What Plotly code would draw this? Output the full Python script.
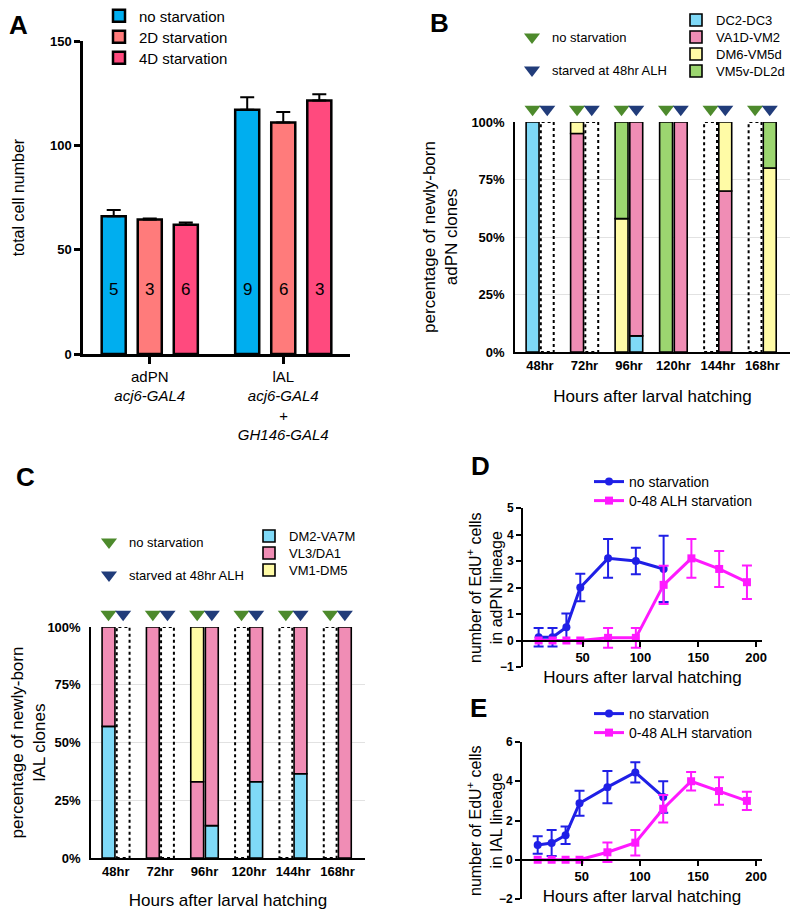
import plotly.graph_objects as go

FONT = "Liberation Sans, Arial, Helvetica, sans-serif"
# the page body adds an 8px margin, so the figure is 784x903 and page pixels are mapped below
W, H = 784, 903
OFFSET = 8

# ---------------- Panel A data ----------------
a_groups = ["adPN<br><i>acj6-GAL4</i>",
            "lAL<br><i>acj6-GAL4</i><br><i>+</i><br><i>GH146-GAL4</i>"]
a_series = ["no starvation", "2D starvation", "4D starvation"]
a_nostarv = [66, 117]
a_2d = [64.5, 111]
a_4d = [62, 121.5]
a_nostarv_err = [3, 6]
a_2d_err = [0.4, 5]
a_4d_err = [1, 3]
a_nostarv_n = [5, 9]
a_2d_n = [3, 6]
a_4d_n = [6, 3]

# ---------------- Panel B data (adPN clones, %) ----------------
hours = ["48hr", "72hr", "96hr", "120hr", "144hr", "168hr"]
b_clones = ["DC2-DC3", "VA1D-VM2", "DM6-VM5d", "VM5v-DL2d"]
b_dc2_fed = [100, 0, 0, 0, 0, 0]
b_va1d_fed = [0, 95, 0, 0, 0, 0]
b_dm6_fed = [0, 5, 58, 0, 0, 0]
b_vm5v_fed = [0, 0, 42, 100, 0, 0]
b_dc2_starved = [0, 0, 7, 0, 0, 0]
b_va1d_starved = [0, 0, 93, 100, 70, 0]
b_dm6_starved = [0, 0, 0, 0, 30, 80]
b_vm5v_starved = [0, 0, 0, 0, 0, 20]

# ---------------- Panel C data (lAL clones, %) ----------------
c_clones = ["DM2-VA7M", "VL3/DA1", "VM1-DM5"]
c_dm2_fed = [57, 0, 0, 0, 0, 0]
c_vl3_fed = [43, 100, 33, 0, 0, 0]
c_vm1_fed = [0, 0, 67, 0, 0, 0]
c_dm2_starved = [0, 0, 14, 33, 36.5, 0]
c_vl3_starved = [0, 0, 86, 67, 63.5, 100]
c_vm1_starved = [0, 0, 0, 0, 0, 0]

# ---------------- Panel D / E data ----------------
t_fed = [12, 24, 36, 48, 72, 96, 120]
t_starved = [12, 24, 36, 48, 72, 96, 120, 144, 168, 192]
d_fed = [0.12, 0.12, 0.5, 2.0, 3.1, 3.0, 2.7]
d_fed_err = [0.35, 0.35, 0.52, 0.52, 0.73, 0.5, 1.25]
d_starved = [0, 0, 0, 0, 0.1, 0.1, 2.1, 3.1, 2.7, 2.2]
d_starved_err = [0, 0, 0, 0, 0.37, 0.37, 0.72, 0.73, 0.68, 0.63]
e_fed = [0.75, 0.85, 1.25, 2.88, 3.7, 4.45, 3.2]
e_fed_err = [0.45, 0.66, 0.45, 0.64, 0.82, 0.52, 0.8]
e_starved = [0, 0, 0, 0, 0.38, 0.87, 2.6, 4.0, 3.5, 3.0]
e_starved_err = [0, 0, 0, 0, 0.5, 0.65, 0.7, 0.47, 0.7, 0.47]

# ---------------- styles ----------------
A_COLORS = ["#00AEEF", "#FF7B7B", "#FF4A7E"]
CLONE_COLORS = {"DC2-DC3": "#7FD9F7", "VA1D-VM2": "#F08DB5", "DM6-VM5d": "#FFFBA6",
                "VM5v-DL2d": "#9CD670", "DM2-VA7M": "#7FD9F7", "VL3/DA1": "#F08DB5",
                "VM1-DM5": "#FFFBA6"}
GREEN_TRI = "#4D8A2C"
NAVY_TRI = "#213C7A"
BLUE = "#1F1FE6"
MAGENTA = "#FF19FF"
BAR_W = 0.29
OFF_FED = -0.31
OFF_STARVED = 0.02


def px(x):
    return (x - OFFSET) / W


def py(y):
    return 1 - (y - OFFSET) / H


fig = go.Figure()
layout = {}
_leg_count = [0]


def new_legend(x_page, y_page, size):
    """one legend per entry, positioned by its row centre on the page"""
    _leg_count[0] += 1
    n = _leg_count[0]
    name = "legend" if n == 1 else f"legend{n}"
    layout[name] = dict(x=px(x_page), y=py(y_page), xanchor="left", yanchor="middle",
                        xref="paper", yref="paper", bgcolor="rgba(0,0,0,0)",
                        font=dict(family=FONT, size=size, color="black"))
    return name


# ---------------- Panel A ----------------
a_vals = [a_nostarv, a_2d, a_4d]
a_errs = [a_nostarv_err, a_2d_err, a_4d_err]
a_ns = [a_nostarv_n, a_2d_n, a_4d_n]
for k, (name, vals, errs, col) in enumerate(zip(a_series, a_vals, a_errs, A_COLORS)):
    fig.add_trace(go.Bar(
        x=a_groups, y=vals, name=name, xaxis="x", yaxis="y",
        marker=dict(color=col, line=dict(color="black", width=2.5)),
        error_y=dict(type="data", symmetric=False, array=errs, arrayminus=[0] * len(errs),
                     color="black", thickness=2, width=7),
        legend=new_legend(99, 16 + 21 * k, 15)))

annotations = []
for k, ns in enumerate(a_ns):
    for g, n in zip(a_groups, ns):
        annotations.append(dict(x=g, y=31, xref="x", yref="y", text=str(n), showarrow=False,
                                xshift=(k - 1) * 36, font=dict(family=FONT, size=17, color="black")))


# ---------------- stacked bars helper (B, C) ----------------
def add_stacked(clones, fed_lists, starved_lists, xa, ya, leg_x, leg_y0, leg_dy):
    n = len(hours)
    for cond, lists, off in (("fed", fed_lists, OFF_FED), ("starved", starved_lists, OFF_STARVED)):
        base = [0] * n
        for j, (clone, vals) in enumerate(zip(clones, lists)):
            xs = [i for i in range(n) if vals[i] > 0]
            if xs:
                show = cond == "fed"
                fig.add_trace(go.Bar(
                    x=xs, y=[vals[i] for i in xs], base=[base[i] for i in xs],
                    width=BAR_W, offset=off, name=clone, legendgroup=clone,
                    showlegend=show,
                    legend=new_legend(leg_x, leg_y0 + leg_dy * j, 13) if show else None,
                    marker=dict(color=CLONE_COLORS[clone], line=dict(color="black", width=1.6)),
                    xaxis=xa, yaxis=ya))
            base = [b + v for b, v in zip(base, vals)]


def empty_boxes(fed_lists, starved_lists, xref, yref):
    shapes = []
    n = len(hours)
    for lists, off in ((fed_lists, OFF_FED), (starved_lists, OFF_STARVED)):
        for i in range(n):
            if sum(l[i] for l in lists) == 0:
                shapes.append(dict(type="rect", xref=xref, yref=yref, x0=i + off, x1=i + off + BAR_W,
                                   y0=0, y1=100, line=dict(color="black", width=2, dash="dot"),
                                   fillcolor="rgba(0,0,0,0)", layer="above"))
    return shapes


def add_triangles(xa, ya, leg_x, leg_ys):
    n = len(hours)
    for (name, col, off), ly in zip((("no starvation", GREEN_TRI, OFF_FED),
                                     ("starved at 48hr ALH", NAVY_TRI, OFF_STARVED)), leg_ys):
        fig.add_trace(go.Scatter(
            x=[i + off + BAR_W / 2 for i in range(n)], y=[105.5] * n, mode="markers",
            marker=dict(symbol="triangle-down", size=14, color=col, line=dict(width=0)),
            name=name, legend=new_legend(leg_x, ly, 13), xaxis=xa, yaxis=ya))


b_fed = [b_dc2_fed, b_va1d_fed, b_dm6_fed, b_vm5v_fed]
b_starved = [b_dc2_starved, b_va1d_starved, b_dm6_starved, b_vm5v_starved]
add_stacked(b_clones, b_fed, b_starved, "x2", "y2", 676, 20, 17)
add_triangles("x2", "y6", 512, [37, 70])

c_fed = [c_dm2_fed, c_vl3_fed, c_vm1_fed]
c_starved = [c_dm2_starved, c_vl3_starved, c_vm1_starved]
add_stacked(c_clones, c_fed, c_starved, "x3", "y3", 249, 536, 17)
add_triangles("x3", "y7", 89, [542, 575])

shapes = empty_boxes(b_fed, b_starved, "x2", "y2") + empty_boxes(c_fed, c_starved, "x3", "y3")

# ---------------- Panels D, E ----------------
for xa, ya, ly, fed, fed_err, stv, stv_err in (
        ("x4", "y4", 482, d_fed, d_fed_err, d_starved, d_starved_err),
        ("x5", "y5", 714, e_fed, e_fed_err, e_starved, e_starved_err)):
    fig.add_trace(go.Scatter(
        x=t_fed, y=fed, mode="lines+markers", name="no starvation",
        line=dict(color=BLUE, width=3), marker=dict(symbol="circle", size=8, color=BLUE),
        error_y=dict(type="data", array=fed_err, color=BLUE, thickness=2, width=5),
        xaxis=xa, yaxis=ya, legend=new_legend(589, ly, 14), cliponaxis=False))
    fig.add_trace(go.Scatter(
        x=t_starved, y=stv, mode="lines+markers", name="0-48 ALH starvation",
        line=dict(color=MAGENTA, width=3), marker=dict(symbol="square", size=8, color=MAGENTA),
        error_y=dict(type="data", array=stv_err, color=MAGENTA, thickness=2, width=5),
        xaxis=xa, yaxis=ya, legend=new_legend(589, ly + 19, 14), cliponaxis=False))

# ---------------- layout ----------------
bold_tick = dict(family=FONT, size=13, color="black", weight="bold")
bold_tick_small = dict(family=FONT, size=12, color="black", weight="bold")
title_font = dict(family=FONT, size=17, color="black")

layout.update(
    width=W, height=H, margin=dict(l=0, r=0, t=0, b=0, autoexpand=False),
    paper_bgcolor="white", plot_bgcolor="rgba(0,0,0,0)",
    font=dict(family=FONT, color="black"),
    barmode="group", bargap=0.19, bargroupgap=0.333,
    shapes=shapes,
)

# Panel A axes
layout["xaxis"] = dict(domain=[px(83), px(350)], anchor="y", type="category", range=[-0.5, 1.5],
                       showline=True, linecolor="black", linewidth=2.5, ticks="outside",
                       ticklen=7, tickwidth=2.5, tickcolor="black",
                       tickfont=dict(family=FONT, size=15, color="black"), showgrid=False, zeroline=False)
layout["yaxis"] = dict(domain=[py(354), py(41)], anchor="x", range=[0, 150], tickvals=[0, 50, 100, 150],
                       showline=True, linecolor="black", linewidth=2.5, ticks="outside",
                       ticklen=6, tickwidth=2.5, tickcolor="black", tickfont=bold_tick,
                       showgrid=False, zeroline=False,
                       title=dict(text="total cell number", font=dict(family=FONT, size=16), standoff=22))

# Panel B / C axes (+ hidden axes for the condition triangles above the bars)
for xn, yn, tn, xd, bottom, top, tri_top, ttl, tstand in (
        ("xaxis2", "yaxis2", "yaxis6", [px(515), px(790)], 352, 122, 100,
         "percentage of newly-born<br>adPN clones", 19),
        ("xaxis3", "yaxis3", "yaxis7", [px(91), px(365)], 858, 627, 605,
         "percentage of newly-born<br>lAL clones", 17)):
    layout[xn] = dict(domain=xd, anchor=yn.replace("axis", ""), range=[-0.56, 5.62],
                      tickvals=list(range(len(hours))), ticktext=hours, tickfont=bold_tick,
                      showline=True, linecolor="black", linewidth=2, ticks="",
                      showgrid=False, zeroline=False,
                      title=dict(text="Hours after larval hatching", font=title_font, standoff=tstand))
    layout[yn] = dict(domain=[py(bottom), py(top)], anchor=xn.replace("axis", ""), range=[0, 100],
                      tickvals=[0, 25, 50, 75, 100], ticktext=["0%", "25%", "50%", "75%", "100%"],
                      tickfont=bold_tick, ticklabelstandoff=6, showline=True, linecolor="black",
                      linewidth=1.5, ticks="", showgrid=True, gridcolor="#E2E2E2", gridwidth=1,
                      zeroline=False, title=dict(text=ttl, font=title_font, standoff=9))
    layout[tn] = dict(domain=[py(bottom), py(tri_top)], anchor=xn.replace("axis", ""),
                      range=[0, 100 * (bottom - tri_top) / (bottom - top)], visible=False)

# Panel D / E axes
for xn, yn, xd, yd, yr, ytv in (
        ("xaxis4", "yaxis4", [px(523), px(762)], [py(667), py(508)], [-1, 5], [-1, 0, 1, 2, 3, 4, 5]),
        ("xaxis5", "yaxis5", [px(522), px(762)], [py(899), py(742)], [-2, 6], [-2, 0, 2, 4, 6])):
    pos = yd[0] + (0 - yr[0]) / (yr[1] - yr[0]) * (yd[1] - yd[0])
    layout[xn] = dict(domain=xd, anchor="free", position=pos, range=[-1.5, 205],
                      tickvals=[50, 100, 150, 200], tickfont=bold_tick,
                      showline=True, linecolor="black", linewidth=2, ticks="outside",
                      ticklen=5, tickwidth=2, tickcolor="black", showgrid=False, zeroline=False,
                      title=dict(text="Hours after larval hatching", font=title_font, standoff=6))
    layout[yn] = dict(domain=yd, anchor=xn.replace("axis", ""), range=yr, tickvals=ytv,
                      tickfont=bold_tick_small, showline=True, linecolor="black", linewidth=2,
                      ticks="outside", ticklen=5, tickwidth=2, tickcolor="black",
                      showgrid=False, zeroline=False)

# D / E y-axis titles (placed close to the axes as in the reference)
for text, cx, cy in (("number of EdU<sup>+</sup> cells<br>in adPN lineage", 484, 587),
                     ("number of EdU<sup>+</sup> cells<br>in lAL lineage", 484, 820)):
    annotations.append(dict(x=px(cx), y=py(cy), xref="paper", yref="paper", text=text,
                            xanchor="center", yanchor="middle",
                            textangle=-90, showarrow=False, align="center",
                            font=dict(family=FONT, size=16, color="black")))

# Panel letters
for letter, lx, ly in (("A", 18, 25), ("B", 440, 23), ("C", 25, 477), ("D", 480, 466), ("E", 478, 708)):
    annotations.append(dict(x=px(lx), y=py(ly), xref="paper", yref="paper", text=f"<b>{letter}</b>",
                            xanchor="center", yanchor="middle",
                            showarrow=False, font=dict(family=FONT, size=26, color="black")))
layout["annotations"] = annotations

fig.update_layout(**layout)
fig.write_html("out.html")
